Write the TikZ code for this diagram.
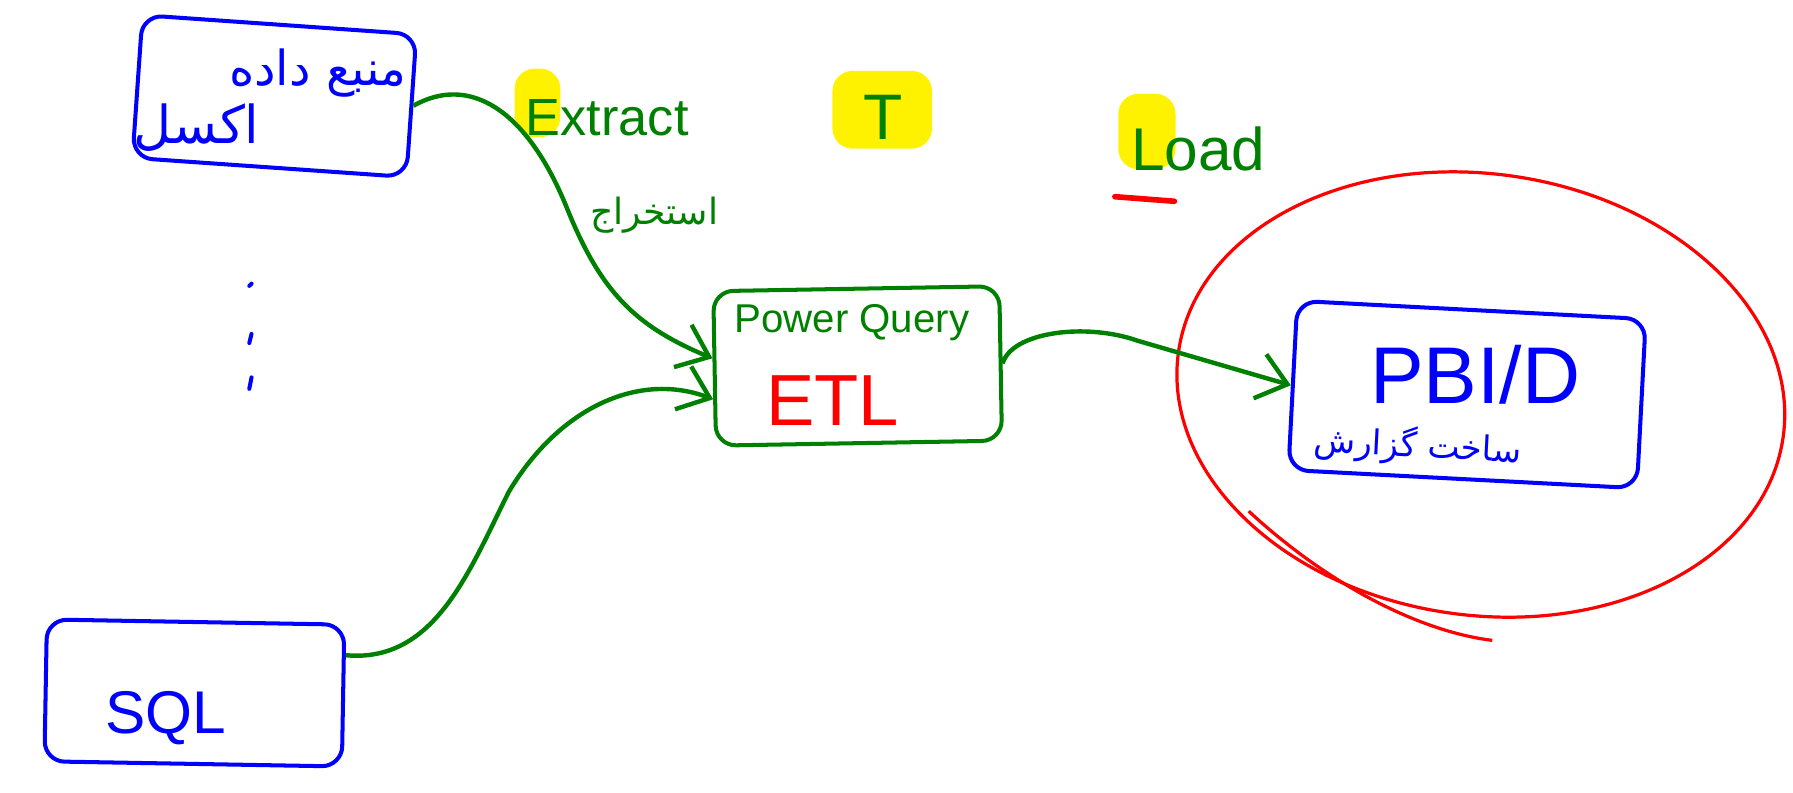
\documentclass[tikz,border=0pt]{standalone}
\usepackage{fontspec}
\setmainfont{Liberation Sans}
\newfontfamily\farsi[Script=Arabic]{DejaVu Sans}
\TeXXeTstate=1
\usetikzlibrary{arrows.meta}

\begin{document}
\begin{tikzpicture}[x=0.01cm, y=-0.01cm, every node/.style={inner sep=0pt},
	box/.style={draw, line width=1pt, rounded corners=5pt},
	flow/.style={green!50!black, line width=1.1pt, -{Straight Barb[length=2.5mm,width=4mm]}},
	hl/.style={fill=yellow, rounded corners=5pt}]
	\useasboundingbox (0,0) rectangle (1568,693);
	\fill[hl] (450,60) rectangle (490,120); \fill[hl] (728,62) rectangle (815,130); \fill[hl] (978,82) rectangle (1028,148);
	\node[box, blue, minimum width=2.4cm, minimum height=1.25cm, rotate=-4] (excel) at (240,84) {};
	\node[box, blue, minimum width=2.6cm, minimum height=1.24cm, rotate=-1] (sql) at (170,606) {};
	\node[box, green!50!black, minimum width=2.5cm, minimum height=1.35cm, rotate=1] (etl) at (750,320) {};
	\node[box, blue, minimum width=3.05cm, minimum height=1.48cm, rotate=-3] (pbi) at (1283,345) {};
	\node[blue, font=\farsi\fontsize{12}{15}\selectfont] (srcA) at (278,64) {\beginR منبع داده\endR};
	\node[blue, font=\farsi\fontsize{13}{16}\selectfont] (srcB) at (172,112) {\beginR اکسل\endR};
	\node[blue, font=\fontsize{15}{18}\selectfont] (sqlT) at (145,628) {SQL};
	\node[green!50!black, font=\fontsize{10}{12}\selectfont] (pq) at (745,282) {Power Query};
	\node[red, font=\fontsize{18}{22}\selectfont] (etlT) at (728,350) {ETL};
	\node[blue, font=\fontsize{20}{24}\selectfont] (pbiT) at (1290,328) {PBI/D};
	\node[blue, font=\farsi\fontsize{8.5}{10}\selectfont, rotate=-3] (pbiF) at (1240,390) {\beginR ساخت گزارش\endR};
	\node[green!50!black, font=\fontsize{13}{15}\selectfont] (ext) at (531,103) {Extract};
	\node[green!50!black, font=\farsi\fontsize{9}{11}\selectfont] (extF) at (572,188) {\beginR استخراج\endR};
	\node[green!50!black, font=\fontsize{16}{18}\selectfont] (tT) at (772,103) {T};
	\node[green!50!black, font=\fontsize{15}{18}\selectfont] (load) at (1048,130) {Load};
	\draw[red, line width=1.4pt, line cap=round] (975,172) -- (1027,176);
	\foreach \y/\l in {248/2, 292/8, 330/10} {\draw[blue, line width=1pt, line cap=round] (220,\y) -- ++(-2,\l);}
	\draw[red, line width=0.8pt, rotate around={-8:(1295,345)}] (1295,345) ellipse (267 and 193);
	\draw[red, line width=0.8pt] (1092,447) .. controls (1160,510) and (1240,552) .. (1305,560);
	\draw[flow] (excel.east) .. controls (410,65) and (460,95) .. (495,180) .. controls (525,255) and (555,285) .. (etl.176);
	\draw[flow] (sql.15) .. controls (380,580) and (410,500) .. (445,430) .. controls (490,355) and (560,325) .. (etl.192);
	\draw[flow] (etl.east) .. controls (885,290) and (950,282) .. (995,298) -- (pbi.west);
\end{tikzpicture}
\end{document}
